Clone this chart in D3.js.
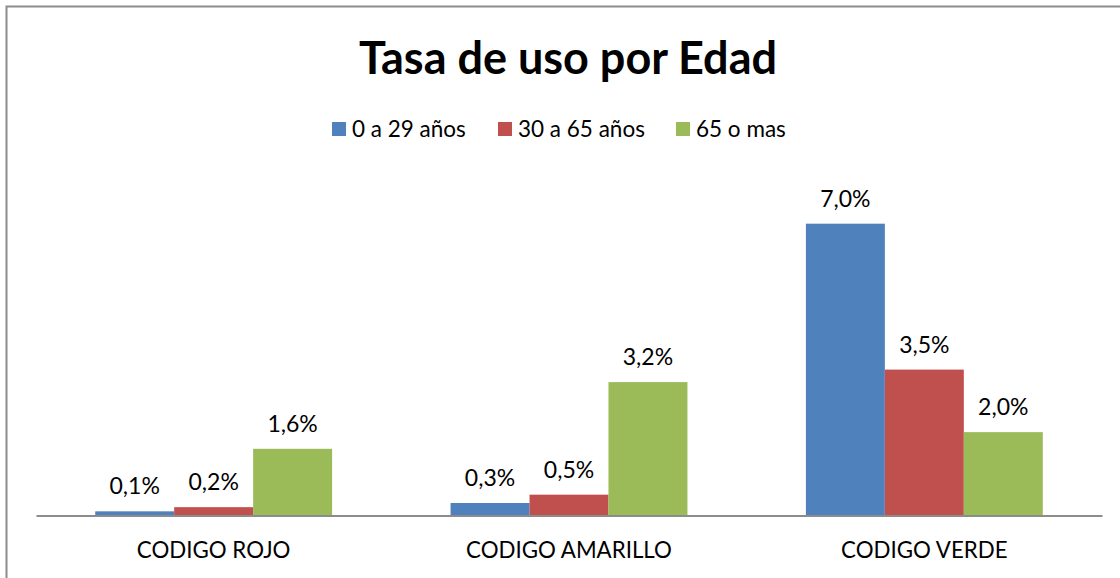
<!DOCTYPE html>
<html>
<head>
<meta charset="utf-8">
<script src="https://cdn.jsdelivr.net/npm/d3@7"></script>
<style>
  body { margin: 0; background: #fff; }
  svg { display: block; font-family: Lato, "Open Sans", sans-serif; }
</style>
</head>
<body>
<div class="chart"></div>
<script>
const WIDTH = 1120
const HEIGHT = 578

// datos
const categorias = ["CODIGO ROJO", "CODIGO AMARILLO", "CODIGO VERDE"];
const series = ["0 a 29 años", "30 a 65 años", "65 o mas"];
const colores = ["#4f81bd", "#c0504d", "#9bbb59"];
const joven = [0.1, 0.3, 7.0];
const adulto = [0.2, 0.5, 3.5];
const mayor = [1.6, 3.2, 2.0];
const valores = [joven, adulto, mayor];

const svg = d3.select("div.chart")
            .append("svg")
            .attr("width", WIDTH)
            .attr("height", HEIGHT);

// marco del grafico
svg.append("rect")
    .attr("x", 6.5).attr("y", 6.5)
    .attr("width", WIDTH).attr("height", HEIGHT)
    .attr("fill", "none")
    .attr("stroke", "#8c8c8c")
    .attr("stroke-width", 2);

const plot = { left: 36, right: 1102, top: 182, bottom: 515.5 };

const x0 = d3.scaleBand()
            .domain(categorias)
            .range([plot.left, plot.right])
            .paddingInner(1 / 3)
            .paddingOuter(1 / 6);

const x1 = d3.scaleBand()
            .domain(series)
            .range([0, x0.bandwidth()]);

const y = d3.scaleLinear()
            .domain([0, 8])
            .range([plot.bottom, plot.top]);

// titulo
svg.append("text")
    .attr("x", 568)
    .attr("y", 74)
    .attr("text-anchor", "middle")
    .style("font-weight", "bold")
    .style("font-size", "45px")
    .text("Tasa de uso por Edad");

// leyenda
const legX = [332, 498, 676];
const ley = svg.selectAll("g.ley")
            .data(series)
            .enter()
            .append("g")
            .attr("transform", (d, i) => `translate(${legX[i]},122)`);
ley.append("rect")
    .attr("width", 14).attr("height", 14)
    .attr("fill", (d, i) => colores[i]);
ley.append("text")
    .attr("x", 20).attr("y", 14.5)
    .style("font-size", "22.5px")
    .text(d => d);

// barras
const grupos = svg.selectAll("g.grupo")
            .data(series)
            .enter()
            .append("g")
            .attr("fill", (d, i) => colores[i]);

grupos.each(function (s, si) {
    const g = d3.select(this);
    const datos = categorias.map((c, ci) => ({ c, v: valores[si][ci] }));
    g.selectAll("rect")
        .data(datos)
        .enter()
        .append("rect")
        .attr("x", d => x0(d.c) + x1(s))
        .attr("y", d => y(d.v))
        .attr("width", x1.bandwidth())
        .attr("height", d => y(0) - y(d.v));
    g.selectAll("text")
        .data(datos)
        .enter()
        .append("text")
        .attr("x", d => x0(d.c) + x1(s) + x1.bandwidth() / 2)
        .attr("y", d => y(d.v) - 17)
        .attr("text-anchor", "middle")
        .attr("fill", "#000")
        .style("font-size", "23px")
        .text(d => d3.format(".1f")(d.v).replace(".", ",") + "%");
});

// eje x
const eje = svg.append("g")
            .attr("transform", `translate(0,${plot.bottom})`)
            .call(d3.axisBottom(x0).tickSize(0).tickPadding(27));
eje.select(".domain").attr("stroke", "#8c8c8c").attr("stroke-width", 2);
eje.selectAll("text")
    .style("font-size", "22.3px")
    .style("font-family", "Lato, 'Open Sans', sans-serif")
    .attr("fill", "#000");
</script>
</body>
</html>
